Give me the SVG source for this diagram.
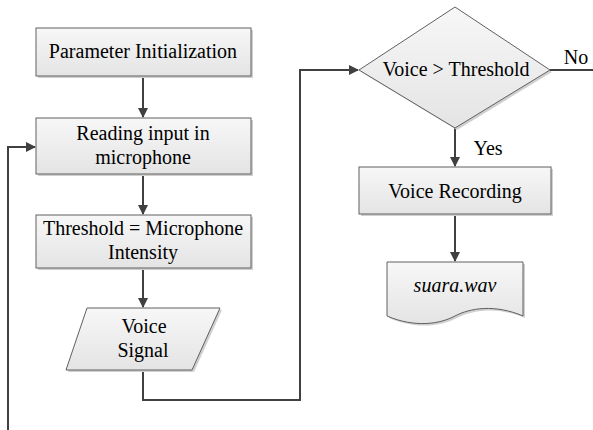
<svg xmlns="http://www.w3.org/2000/svg" width="593" height="430" viewBox="0 0 593 430">
<defs>
<linearGradient id="g" x1="0" y1="0" x2="0" y2="1"><stop offset="0" stop-color="#f7f7f7"/><stop offset="1" stop-color="#e4e4e4"/></linearGradient>
<marker id="ah" markerWidth="10" markerHeight="10" refX="9" refY="5" orient="auto" markerUnits="userSpaceOnUse"><path d="M0,0 L10,5 L0,10 Z" fill="#404040"/></marker>
</defs>
<rect width="593" height="430" fill="#fff"/>
<g id="connectors" fill="none" stroke="#404040" stroke-width="2">
<line x1="143" y1="76" x2="143" y2="117" marker-end="url(#ah)"/>
<line x1="143" y1="174" x2="143" y2="214" marker-end="url(#ah)"/>
<line x1="143" y1="268" x2="143" y2="307" marker-end="url(#ah)"/>
<polyline points="143,370 143,400 300,400 300,70 358,70" marker-end="url(#ah)"/>
<polyline points="8,430 8,147 35,147" marker-end="url(#ah)"/>
<line x1="550" y1="70" x2="593" y2="70"/>
<line x1="455" y1="128" x2="455" y2="166" marker-end="url(#ah)"/>
<line x1="455" y1="214" x2="455" y2="261" marker-end="url(#ah)"/>
</g>
<text style="font-family:'Liberation Serif',serif !important;font-size:20px" text-anchor="middle" x="576" y="64">No</text>
<text style="font-family:'Liberation Serif',serif !important;font-size:20px" text-anchor="middle" x="488" y="155">Yes</text>
<g id="n1"><rect x="38" y="30" width="215" height="48" fill="#d0d0d0"/><rect x="36" y="28" width="215" height="48" fill="url(#g)" stroke="#606060"/><text style="font-family:'Liberation Serif',serif !important;font-size:20px" text-anchor="middle" x="143" y="58">Parameter Initialization</text></g>
<g id="n2"><rect x="38" y="120" width="215" height="56" fill="#d0d0d0"/><rect x="36" y="118" width="215" height="56" fill="url(#g)" stroke="#606060"/><text style="font-family:'Liberation Serif',serif !important;font-size:20px" text-anchor="middle" x="143" y="140">Reading input in</text><text style="font-family:'Liberation Serif',serif !important;font-size:20px" text-anchor="middle" x="143" y="164">microphone</text></g>
<g id="n3"><rect x="38" y="217" width="215" height="53" fill="#d0d0d0"/><rect x="36" y="215" width="215" height="53" fill="url(#g)" stroke="#606060"/><text style="font-family:'Liberation Serif',serif !important;font-size:20px" text-anchor="middle" x="143" y="235">Threshold = Microphone</text><text style="font-family:'Liberation Serif',serif !important;font-size:20px" text-anchor="middle" x="143" y="259">Intensity</text></g>
<g id="n4"><polygon points="89,310 222,310 194,372 68,372" fill="#d0d0d0"/><polygon points="87,308 220,308 192,370 66,370" fill="url(#g)" stroke="#606060"/><text style="font-family:'Liberation Serif',serif !important;font-size:20px" text-anchor="middle" x="144" y="333">Voice</text><text style="font-family:'Liberation Serif',serif !important;font-size:20px" text-anchor="middle" x="143" y="357">Signal</text></g>
<g id="n5"><polygon points="457,9 552,72 457,130 361,72" fill="#d0d0d0"/><polygon points="455,7 550,70 455,128 359,70" fill="url(#g)" stroke="#606060"/><text style="font-family:'Liberation Serif',serif !important;font-size:20px" text-anchor="middle" x="456" y="76">Voice &gt; Threshold</text></g>
<g id="n6"><rect x="361" y="169" width="192" height="47" fill="#d0d0d0"/><rect x="359" y="167" width="192" height="47" fill="url(#g)" stroke="#606060"/><text style="font-family:'Liberation Serif',serif !important;font-size:20px" text-anchor="middle" x="455" y="198">Voice Recording</text></g>
<g id="n7"><path d="M389,264 L525,264 L525,318 C497,306 472,310 457,318 C442,326 417,330 389,318 Z" fill="#d0d0d0"/><path d="M387,262 L523,262 L523,316 C495,304 470,308 455,316 C440,324 415,328 387,316 Z" fill="url(#g)" stroke="#606060"/><text style="font-family:'Liberation Serif',serif !important;font-size:20px;font-style:italic" text-anchor="middle" x="455" y="292">suara.wav</text></g>
</svg>
